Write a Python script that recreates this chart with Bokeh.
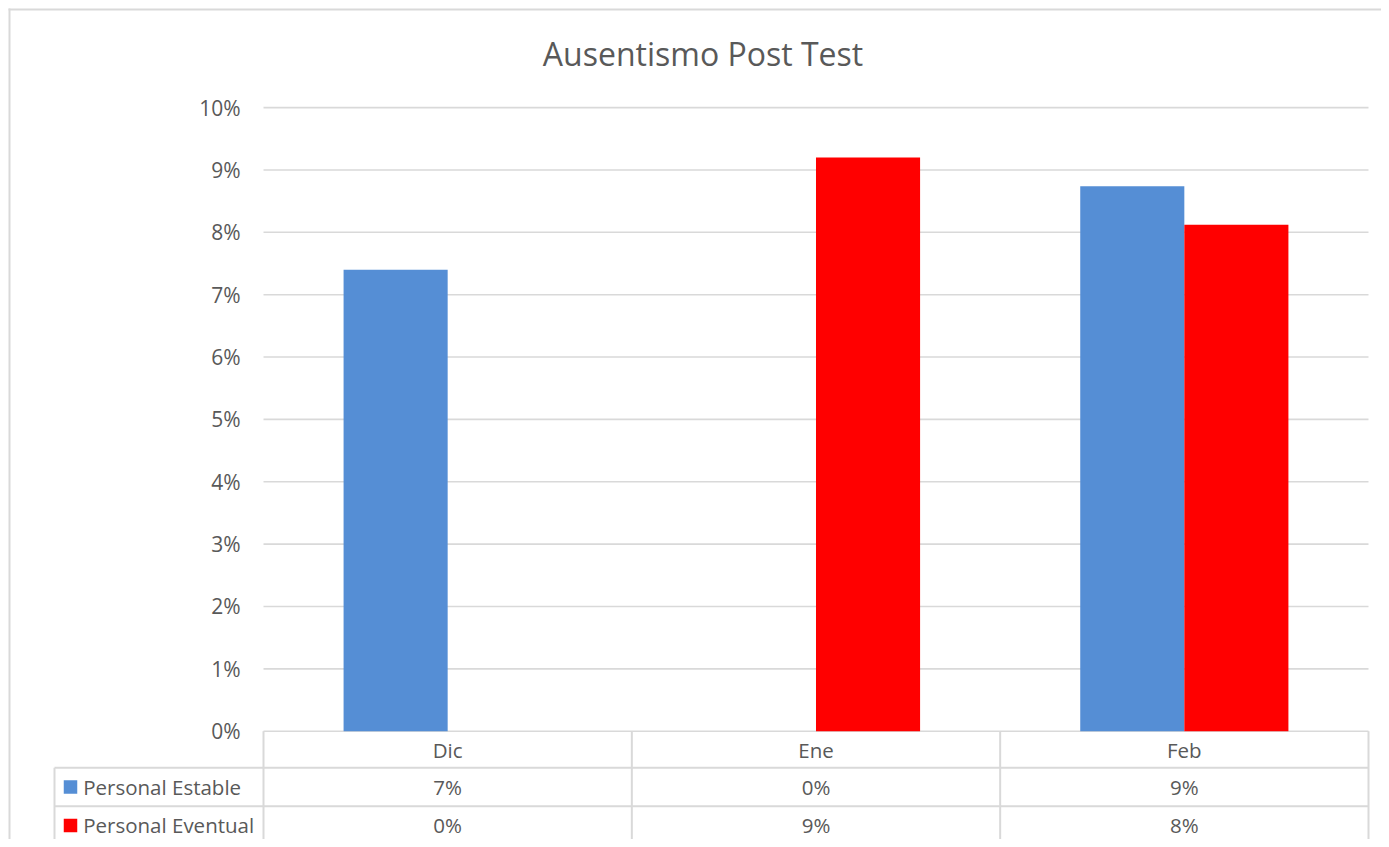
from bokeh.plotting import figure
from bokeh.models import Range1d, ColumnDataSource
from bokeh.core.properties import value
from bokeh.embed import file_html
from bokeh.resources import INLINE

# ---------------- data ----------------
title = "Ausentismo Post Test"
categories = ["Dic", "Ene", "Feb"]
series_names = ["Personal Estable", "Personal Eventual"]
estable = [0.0740, 0.0, 0.0874]
eventual = [0.0, 0.0920, 0.0812]
y_ticks = [0.00, 0.01, 0.02, 0.03, 0.04, 0.05, 0.06, 0.07, 0.08, 0.09, 0.10]
tick_labels = ["0%", "1%", "2%", "3%", "4%", "5%", "6%", "7%", "8%", "9%", "10%"]
series_colors = ["#558ED5", "#FF0000"]

# ---------------- layout (canvas pixels) ----------------
W, H = 1381, 839
PLOT_L = 263.0      # canvas x where category axis starts
CAT_W = 368.33      # pixel width of one category
ZERO_Y = 730.7      # canvas y of the 0% line
PCT_PX = 6236.0     # pixels per 1.0 (=100%)
HEADER_H = 36.6
ROW_H = 38.4
LEG_L = 54.0        # left edge of legend column
BAR_W = 0.2826      # in category units
EDGE = 8.0          # chart border offset
TEXT_COLOR = "#595959"
LINE_COLOR = "#d9d9d9"
FONT = value("Open Sans")


def u(px):
    return (px - PLOT_L) / CAT_W


def v(py):
    return (ZERO_Y - py) / PCT_PX


p = figure(width=W, height=H, output_backend="svg", toolbar_location=None,
           x_range=Range1d(u(0), u(W)), y_range=Range1d(v(H), v(0)),
           x_axis_location=None, y_axis_location=None,
           min_border=0, min_border_left=0, min_border_right=0,
           min_border_top=0, min_border_bottom=0)
p.outline_line_color = None
p.grid.visible = False
p.background_fill_color = "white"
p.border_fill_color = "white"

n = len(categories)
centers = [i + 0.5 for i in range(n)]

# gridlines
p.segment(x0=[0] * len(y_ticks), x1=[n] * len(y_ticks), y0=y_ticks, y1=y_ticks,
          line_color=LINE_COLOR, line_width=1.6)

# bars
src = ColumnDataSource(dict(
    x_est=[c - BAR_W / 2 for c in centers],
    x_evt=[c + BAR_W / 2 for c in centers],
    estable=estable, eventual=eventual))
p.vbar(x="x_est", top="estable", bottom=0, width=BAR_W, source=src,
       fill_color=series_colors[0], line_color=None)
p.vbar(x="x_evt", top="eventual", bottom=0, width=BAR_W, source=src,
       fill_color=series_colors[1], line_color=None)

# y tick labels
p.text(x=[u(240)] * len(y_ticks), y=y_ticks, text=tick_labels,
       text_font=FONT, text_font_size="21px", text_color=TEXT_COLOR,
       text_align="right", text_baseline="middle")

# title
p.text(x=[u(702.5)], y=[v(52.5)], text=[title], text_font=FONT,
       text_font_size="32px", text_color=TEXT_COLOR,
       text_align="center", text_baseline="middle")

# ---------------- data table ----------------
b1 = ZERO_Y + HEADER_H
b2 = b1 + ROW_H
b3 = b2 + ROW_H
row_lines = [v(b1), v(b2), v(b3)]
p.segment(x0=[u(LEG_L)] * 3, x1=[n] * 3, y0=row_lines, y1=row_lines,
          line_color=LINE_COLOR, line_width=2)
vx = list(range(n + 1))
p.segment(x0=vx, x1=vx, y0=[0] * len(vx), y1=[v(b3)] * len(vx),
          line_color=LINE_COLOR, line_width=2)
p.segment(x0=[u(LEG_L)], x1=[u(LEG_L)], y0=[v(b1)], y1=[v(b3)],
          line_color=LINE_COLOR, line_width=2)

header_y = v(ZERO_Y + HEADER_H / 2)
row_y = [v(b1 + ROW_H / 2), v(b2 + ROW_H / 2)]

p.text(x=centers, y=[header_y] * n, text=categories, text_font=FONT,
       text_font_size="20.5px", text_color=TEXT_COLOR,
       text_align="center", text_baseline="middle")

for k, vals in enumerate([estable, eventual]):
    labels = ["%d%%" % round(val * 100) for val in vals]
    p.text(x=centers, y=[row_y[k]] * n, text=labels, text_font=FONT,
           text_font_size="20.5px", text_color=TEXT_COLOR,
           text_align="center", text_baseline="middle")

p.scatter(x=[u(70)] * 2, y=row_y, marker="square", size=13.5,
          fill_color=series_colors, line_color=None)
p.text(x=[u(82.7)] * 2, y=row_y, text=series_names, text_font=FONT,
       text_font_size="20.5px", text_color=TEXT_COLOR,
       text_align="left", text_baseline="middle")

# chart border (left and top edges visible)
p.segment(x0=[u(EDGE + 1), u(EDGE)], x1=[u(EDGE + 1), u(W)],
          y0=[v(EDGE), v(EDGE + 1)], y1=[v(H), v(EDGE + 1)],
          line_color=LINE_COLOR, line_width=2)

open("out.html", "w").write(file_html(p, INLINE))
